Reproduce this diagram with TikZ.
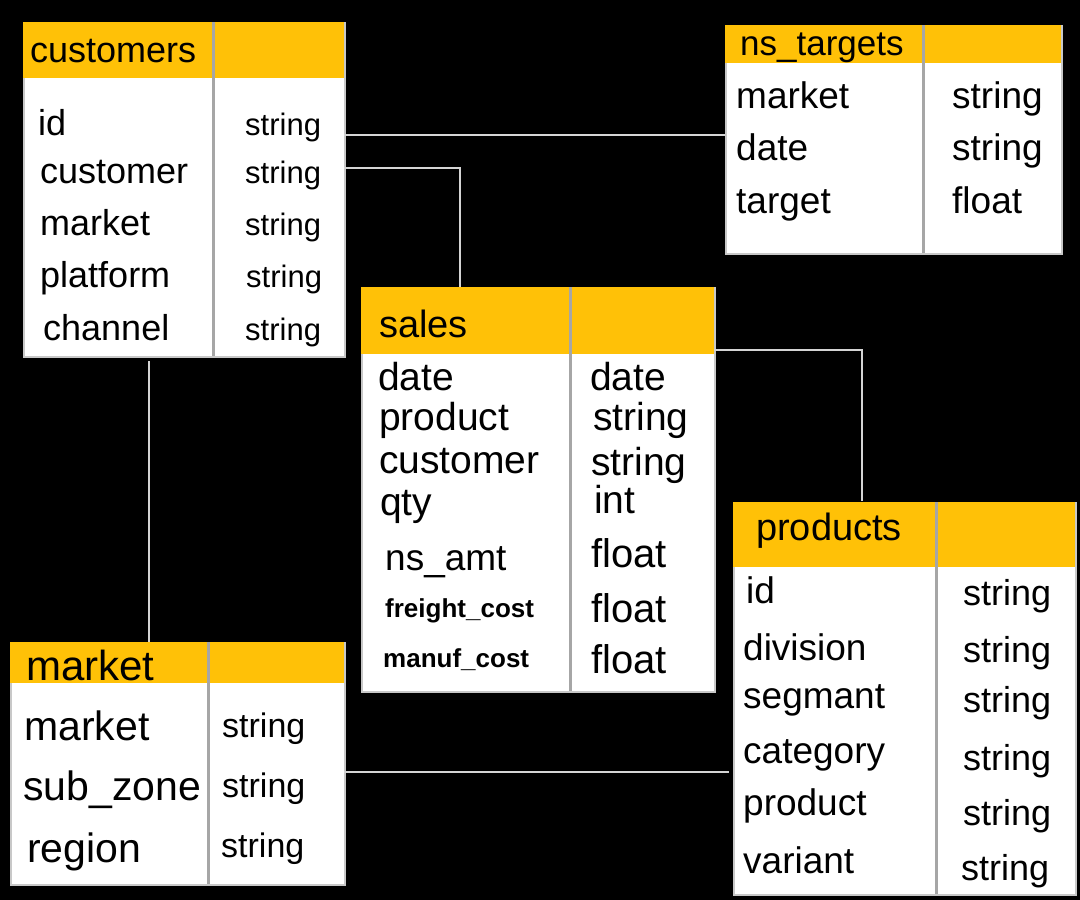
\documentclass[tikz,border=0pt]{standalone}
\usepackage{fontspec}
\setmainfont{Liberation Sans}
\usetikzlibrary{positioning,calc}
\definecolor{amber}{HTML}{FFC107}
\definecolor{divgrey}{HTML}{A6A6A6}
\definecolor{edgegrey}{HTML}{C8C8C8}
\definecolor{linkgrey}{HTML}{D4D4D4}

\begin{document}
\begin{tikzpicture}[x=1pt, y=-1pt,
            tbl/.style={draw=edgegrey, line width=1.5pt, fill=white, anchor=north west, inner sep=0},
            hdr/.style={fill=amber, anchor=north west, inner sep=0},
            divider/.style={draw=divgrey, line width=3pt},
            fld/.style={anchor=base west, inner sep=0, font=\fontsize{#1}{#1}\selectfont},
            fldb/.style={anchor=base west, inner sep=0, font=\fontsize{#1}{#1}\selectfont\bfseries},
            link/.style={draw=linkgrey, line width=1.5pt}]
        \fill[black] (0,0) rectangle (1080,900);
        \useasboundingbox (0,0) rectangle (1080,900);

        % customers
        \node[tbl, minimum width=321pt, minimum height=334pt] (cust) at (23,22) {};
        \node[hdr, minimum width=321pt, minimum height=56pt] (cust-hd) at (cust.north west) {};
        \draw[divider] (213,22) -- (213,356);
        \node[fld=36] (cust-title) at (30,62) {customers};
        \node[fld=36] (cust-id) at (38,135) {id};
        \node[fld=36] (cust-customer) at (40,183) {customer};
        \node[fld=36] (cust-market) at (40,235) {market};
        \node[fld=36] (cust-platform) at (40,287) {platform};
        \node[fld=36] (cust-channel) at (43,340) {channel};
        \node[fld=31] (cust-id-ty) at (245,135) {string};
        \node[fld=31] (cust-customer-ty) at (245,183) {string};
        \node[fld=31] (cust-market-ty) at (245,235) {string};
        \node[fld=31] (cust-platform-ty) at (246,287) {string};
        \node[fld=31] (cust-channel-ty) at (245,340) {string};

        % ns_targets
        \node[tbl, minimum width=336pt, minimum height=228pt] (tgt) at (725,25) {};
        \node[hdr, minimum width=336pt, minimum height=38pt] (tgt-hd) at (tgt.north west) {};
        \draw[divider] (923,25) -- (923,253);
        \node[fld=35] (tgt-title) at (740,55) {ns\_targets};
        \node[fld=37] (tgt-market) at (736,108) {market};
        \node[fld=37] (tgt-date) at (736,160) {date};
        \node[fld=37] (tgt-target) at (736,213) {target};
        \node[fld=37] (tgt-market-ty) at (952,108) {string};
        \node[fld=37] (tgt-date-ty) at (952,160) {string};
        \node[fld=37] (tgt-target-ty) at (952,213) {float};

        % sales
        \node[tbl, minimum width=353pt, minimum height=404pt] (sales) at (361,287) {};
        \node[hdr, minimum width=353pt, minimum height=67pt] (sales-hd) at (sales.north west) {};
        \draw[divider] (570,287) -- (570,691);
        \node[fld=38] (sales-title) at (379,337) {sales};
        \node[fld=39] (sales-date) at (378,390) {date};
        \node[fld=39] (sales-product) at (379,430) {product};
        \node[fld=39] (sales-customer) at (379,473) {customer};
        \node[fld=39] (sales-qty) at (380,515) {qty};
        \node[fld=37] (sales-nsamt) at (385,570) {ns\_amt};
        \node[fldb=26] (sales-freight) at (385,617) {freight\_cost};
        \node[fldb=26] (sales-manuf) at (383,667) {manuf\_cost};
        \node[fld=39] (sales-date-ty) at (590,390) {date};
        \node[fld=39] (sales-product-ty) at (593,430) {string};
        \node[fld=39] (sales-customer-ty) at (591,475) {string};
        \node[fld=39] (sales-qty-ty) at (594,513) {int};
        \node[fld=40] (sales-nsamt-ty) at (591,567) {float};
        \node[fld=40] (sales-freight-ty) at (591,622) {float};
        \node[fld=40] (sales-manuf-ty) at (591,673) {float};

        % products
        \node[tbl, minimum width=342pt, minimum height=392pt] (prod) at (733,502) {};
        \node[hdr, minimum width=342pt, minimum height=65pt] (prod-hd) at (prod.north west) {};
        \draw[divider] (936,502) -- (936,894);
        \node[fld=38] (prod-title) at (756,540) {products};
        \node[fld=37] (prod-id) at (746,603) {id};
        \node[fld=37] (prod-division) at (743,660) {division};
        \node[fld=37] (prod-segment) at (743,708) {segmant};
        \node[fld=37] (prod-category) at (743,763) {category};
        \node[fld=37] (prod-product) at (743,815) {product};
        \node[fld=37] (prod-variant) at (743,873) {variant};
        \node[fld=36] (prod-id-ty) at (963,605) {string};
        \node[fld=36] (prod-division-ty) at (963,662) {string};
        \node[fld=36] (prod-segment-ty) at (963,712) {string};
        \node[fld=36] (prod-category-ty) at (963,770) {string};
        \node[fld=36] (prod-product-ty) at (963,825) {string};
        \node[fld=36] (prod-variant-ty) at (961,880) {string};

        % market
        \node[tbl, minimum width=334pt, minimum height=242pt] (mkt) at (10,642) {};
        \node[hdr, minimum width=334pt, minimum height=41pt] (mkt-hd) at (mkt.north west) {};
        \draw[divider] (208,642) -- (208,884);
        \node[fld=42] (mkt-title) at (26,680) {market};
        \node[fld=41] (mkt-market) at (24,740) {market};
        \node[fld=41] (mkt-subzone) at (23,800) {sub\_zone};
        \node[fld=41] (mkt-region) at (27,862) {region};
        \node[fld=34] (mkt-market-ty) at (222,737) {string};
        \node[fld=34] (mkt-subzone-ty) at (222,797) {string};
        \node[fld=34] (mkt-region-ty) at (221,857) {string};

        % links
        \coordinate (cust-out1) at (344,135);
        \coordinate (cust-out2) at (344,168);
        \coordinate (cust-down) at (149,361);
        \coordinate (sales-in) at (460,287);
        \coordinate (sales-out) at (714,350);
        \coordinate (prod-in) at (862,501);
        \coordinate (mkt-out) at (344,772);
        \coordinate (prod-left) at (729,772);
        \draw[link] (cust-out1) -- (cust-out1 -| tgt.west);
        \draw[link] (cust-out2) -| (sales-in);
        \draw[link] (cust-down) -- (cust-down |- mkt.north);
        \draw[link] (sales-out) -| (prod-in);
        \draw[link] (mkt-out) -- (prod-left);
\end{tikzpicture}
\end{document}
